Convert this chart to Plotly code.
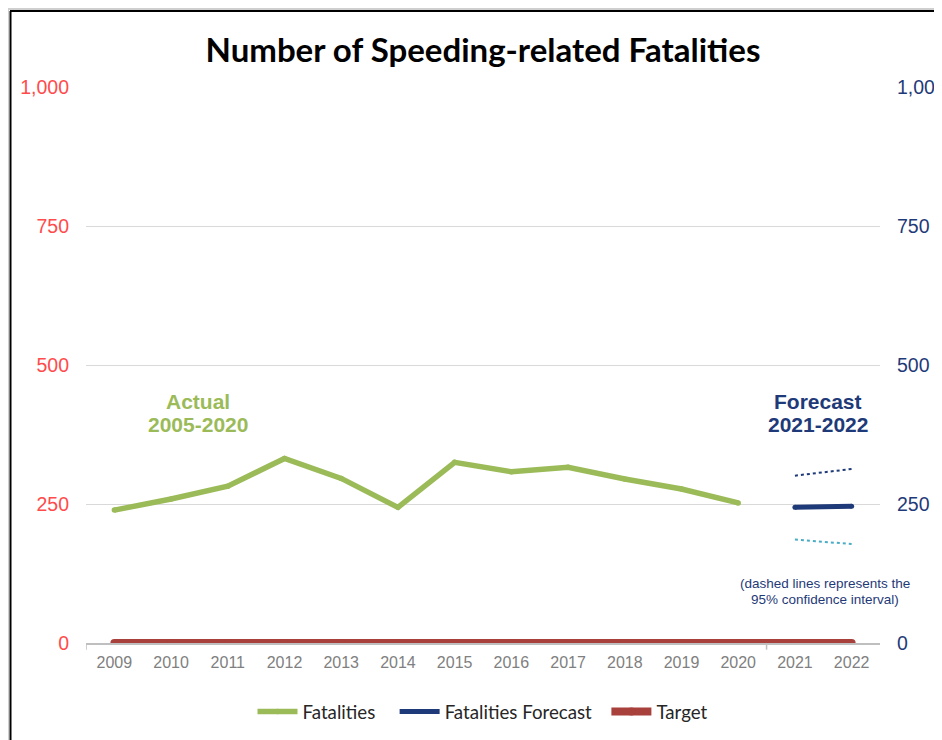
import plotly.graph_objects as go

years = [2009, 2010, 2011, 2012, 2013, 2014, 2015, 2016, 2017, 2018, 2019, 2020]
fatalities = [239, 259, 282, 332, 296, 244, 325, 308, 316, 295, 277, 252]

forecast_years = [2021, 2022]
forecast = [244, 246]
upper_ci = [301, 313]
lower_ci = [186, 178]

target_years = [2009, 2010, 2011, 2012, 2013, 2014, 2015, 2016, 2017, 2018, 2019, 2020, 2021, 2022]
target = [0] * len(target_years)

tick_years = target_years
y_ticks = [0, 250, 500, 750, 1000]
y_ticktext = ["0", "250", "500", "750", "1,000"]

GREEN = "#9bbb59"
NAVY = "#1f3a78"
TEAL = "#4bacc6"
RED = "#a8403b"

fig = go.Figure()

fig.add_trace(go.Scatter(x=target_years, y=target, mode="lines+markers", name="Target",
                         line=dict(color=RED, width=8), marker=dict(size=8, color=RED),
                         legendrank=3))
fig.add_trace(go.Scatter(x=years, y=fatalities, mode="lines+markers",
                         name="Fatalities\u00a0\u00a0\u00a0",
                         line=dict(color=GREEN, width=5.5), marker=dict(size=5.5, color=GREEN),
                         legendrank=1))
fig.add_trace(go.Scatter(x=forecast_years, y=forecast, mode="lines+markers",
                         name="Fatalities Forecast\u00a0\u00a0",
                         line=dict(color=NAVY, width=5), marker=dict(size=5, color=NAVY),
                         legendrank=2))
fig.add_trace(go.Scatter(x=forecast_years, y=upper_ci, mode="lines", showlegend=False,
                         line=dict(color=NAVY, width=2, dash="dot")))
fig.add_trace(go.Scatter(x=forecast_years, y=lower_ci, mode="lines", showlegend=False,
                         line=dict(color=TEAL, width=2, dash="dot")))
# invisible trace to activate right axis
fig.add_trace(go.Scatter(x=[2009], y=[0], yaxis="y2", mode="lines", showlegend=False,
                         hoverinfo="skip", line=dict(width=0)))

# page is offset by 8px (body margin); plot area in page coords: x 86..880, y 87..643
fig.update_layout(
    width=942, height=740,
    margin=dict(l=78, r=70, t=79, b=105, autoexpand=False),
    paper_bgcolor="white", plot_bgcolor="white",
    title=dict(text="<b>Number of Speeding-related Fatalities</b>",
               font=dict(family="Lato", size=33, color="black"),
               x=0.5, xref="paper", xanchor="center", y=1 - 42 / 740, yanchor="middle"),
    xaxis=dict(range=[2008.5, 2022.5], tickvals=tick_years, ticktext=[str(y) for y in tick_years],
               showgrid=False, showline=True, linecolor="#bfbfbf", linewidth=1.5,
               ticks="", ticklabelstandoff=4, automargin=False,
               tickfont=dict(family="Liberation Sans", size=16, color="#808080"),
               zeroline=False),
    yaxis=dict(range=[0, 1000], tickvals=y_ticks, ticktext=y_ticktext,
               showgrid=True, gridcolor="#d9d9d9", gridwidth=1, zeroline=False,
               showline=False, ticklabelstandoff=16, automargin=False,
               tickfont=dict(family="Liberation Sans", size=19.5, color="#ff4b4b")),
    yaxis2=dict(range=[0, 1000], tickvals=y_ticks, ticktext=y_ticktext, overlaying="y",
                side="right", showgrid=False, zeroline=False, showline=False,
                ticklabelstandoff=16, automargin=False,
                tickfont=dict(family="Liberation Sans", size=19.5, color="#1f3a78")),
    legend=dict(orientation="h", x=0.5, xanchor="center", y=-0.124, yanchor="middle",
                font=dict(family="Lato", size=18.7, color="#262626"),
                itemwidth=40, tracegroupgap=0, bgcolor="rgba(0,0,0,0)"),
    showlegend=True,
)

# x-axis tick marks at the start and between actual/forecast
for xv in [2008.5, 2020.5]:
    fig.add_shape(type="line", xref="x", yref="paper", x0=xv, x1=xv, y0=0, y1=-0.012,
                  line=dict(color="#bfbfbf", width=1.5))

# helpers: reference page pixel -> paper coords
W, H = 794, 556
def px(x):
    return (x - 86) / W
def py(y):
    return (643 - y) / H

# picture frame: gray band and black border on top and left
fig.add_shape(type="rect", xref="paper", yref="paper", x0=px(0), x1=px(960), y0=py(10), y1=py(-10),
              fillcolor="#cfcfcf", line=dict(width=0), layer="above")
fig.add_shape(type="rect", xref="paper", yref="paper", x0=px(-10), x1=px(9), y0=py(760), y1=py(-10),
              fillcolor="#cfcfcf", line=dict(width=0), layer="above")
fig.add_shape(type="line", xref="paper", yref="paper", x0=px(10), x1=px(960), y0=py(11), y1=py(11),
              line=dict(color="black", width=2))
fig.add_shape(type="line", xref="paper", yref="paper", x0=px(10.5), x1=px(10.5), y0=py(760), y1=py(11),
              line=dict(color="black", width=2))

ann_font_bold = dict(family="Liberation Sans", size=21)
def note(text, x, y, font):
    fig.add_annotation(text=text, xref="paper", yref="paper", x=px(x), y=py(y),
                       xanchor="center", yanchor="middle", showarrow=False, font=font)

note("<b>Actual</b>", 198, 401, dict(ann_font_bold, color=GREEN))
note("<b>2005-2020</b>", 198, 424, dict(ann_font_bold, color=GREEN))
note("<b>Forecast</b>", 818, 401, dict(ann_font_bold, color=NAVY))
note("<b>2021-2022</b>", 818, 424, dict(ann_font_bold, color=NAVY))
note("(dashed lines represents the", 825, 583, dict(family="Liberation Sans", size=13.5, color=NAVY))
note("95% confidence interval)", 825, 599, dict(family="Liberation Sans", size=13.5, color=NAVY))

fig.write_html("out.html")
